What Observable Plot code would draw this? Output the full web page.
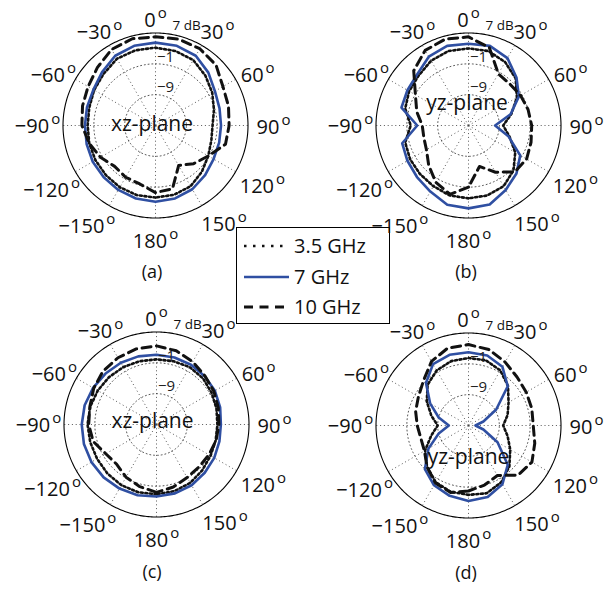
<!DOCTYPE html>
<html><head><meta charset="utf-8">
<script src="https://cdn.jsdelivr.net/npm/d3@7"></script>
<script src="https://cdn.jsdelivr.net/npm/@observablehq/plot@0.6"></script>
<style>
body{margin:0;background:#fff;}
#wrap{position:relative;width:613px;height:590px;overflow:hidden;font-family:"Open Sans",sans-serif;color:#111;}
.panel{position:absolute;}
.cap{position:absolute;font-size:18px;line-height:1;transform:translate(-50%,-50%);white-space:nowrap;}
#legend{position:absolute;left:236px;top:227px;width:154px;height:97px;border:1px solid #000;box-sizing:border-box;background:#fff;}
</style></head><body><div id="wrap"></div>
<script>
// ---- data (dB, relative) ----
const angles = [-180,-165,-150,-135,-120,-105,-90,-75,-60,-45,-30,-15,0,15,30,45,60,75,90,105,120,135,150,165];
// (a) xz-plane
const a35 = [1.7,1.7,1.5,1.2,1.0,0.8,0.6,0.8,1.4,2.0,3.0,3.2, 3.2,3.0,2.6,1.3,0.0,-1.3,-2.2,-2.0,-1.2,0.0,1.2,1.6];
const a7  = [2.8,2.6,2.3,2.0,1.8,1.5,1.3,1.4,1.6,2.6,3.9,4.4, 4.5,4.4,3.9,2.4,0.8,0.2,0.0,0.1,0.4,1.2,2.1,2.6];
const a10 = [0.4,-1.3,-1.5,-2.0,-0.5,0.8,2.1,2.6,3.2,4.3,5.8,6.3, 6.0,6.2,6.0,5.2,3.2,2.6,2.1,1.8,-1.2,-3.0,-5.0,0.0];
// (b) yz-plane
const b35 = [1.9,1.8,1.2,0.8,0.5,0.0,-2.0,0.0,0.8,1.3,2.4,3.0, 3.0,3.0,2.0,0.3,-2.5,-5.5,-8.0,-6.0,-3.0,-0.5,1.2,1.8];
const b7  = [4.5,4.3,2.8,1.9,1.3,0.8,-3.7,1.0,1.3,1.8,3.6,4.4, 4.2,4.4,3.2,0.6,-1.9,-5.7,-10.1,-6.3,-1.5,0.6,2.3,4.2];
const b10 = [-1.0,1.5,0.0,-2.4,-4.4,-5.0,-5.0,-3.1,-1.1,3.1,5.5,6.2, 6.0,3.9,-1.5,-1.8,-1.4,-1.0,-0.6,-0.2,0.4,0.0,-3.0,-6.0];
// (c) xz-plane
const c35 = [1.1,1.2,1.2,1.0,0.8,0.8,0.9,0.8,0.6,0.4,0.2,0.0, -0.1,0.0,0.2,0.0,-0.5,-0.9,-1.2,-1.1,-0.8,-0.2,0.5,0.9];
const c7  = [1.7,2.0,2.2,2.4,2.5,2.5,2.4,2.3,2.0,1.7,1.5,1.3, 1.1,1.0,0.9,0.7,0.5,0.1,-0.3,-0.1,0.3,0.7,1.2,1.5];
const c10 = [0.6,-0.3,-1.2,-2.4,-1.8,0.0,0.6,0.9,1.8,2.6,3.0,3.3, 3.4,2.8,1.8,0.8,0.2,-0.4,-0.8,-1.0,-1.3,-1.4,-1.1,-0.2];
// (d) yz-plane
const d35 = [1.0,0.8,0.0,-1.8,-4.0,-7.0,-9.0,-7.0,-4.5,-2.0,-0.5,0.3, 0.5,0.5,-0.5,-2.5,-5.0,-6.5,-8.0,-6.5,-4.5,-2.0,0.0,1.2];
const d7  = [2.6,1.9,0.9,-1.0,-5.0,-9.0,-11.9,-9.0,-5.5,-1.4,1.4,2.0, 2.0,1.8,0.6,-2.6,-8.7,-13.0,-15.2,-13.0,-8.3,-2.6,0.6,2.2];
const d10 = [0.0,1.0,0.2,-1.8,-3.8,-4.2,-3.7,-2.8,-2.0,-0.5,2.2,3.8, 4.0,3.4,2.0,0.8,0.3,0.0,-0.2,0.8,2.0,1.2,-2.0,-1.0];

const seriesNames = ["3.5 GHz","7 GHz","10 GHz"];
const tickAngles = [0,30,60,90,120,150,180,-150,-120,-90,-60,-30];
const tickLabels = ["0","30","60","90","120","150","180","\u2212150","\u2212120","\u221290","\u221260","\u221230"];
const spokeAngles = [0,30,60,90,120,150,180,210,240,270,300,330];
const gridRings = [-1,-9];
const ringLabels = ["\u22121","\u22129"];
const dbTop = 7, dbMin = -17;
const unitLabel = "7 dB";
const planes = ["xz-plane","yz-plane","xz-plane","yz-plane"];
const captions = ["(a)","(b)","(c)","(d)"];

// ---- layout / styles ----
const W = 310, H = 266, R = 92.5;
const k = R / (dbTop - dbMin);
const labelRx = {0:118, 30:118, 60:118, 90:118, 120:120, 150:137, 180:118};
const labelNudge = {"30":[3,-2], "-30":[3,-2], "90":[0,-3], "-90":[0,-4], "120":[3,0], "-120":[0,4], "150":[0,-2]};
const labelRy = 110.75, labelShift = 5.5;
const layout = [
  {cx:155, cy:125, pdx:-3.5, pby:5,   capx:152, capy:271},
  {cx:467.5, cy:125, pdx:-1.5, pby:-15.5, capx:466, capy:271},
  {cx:155.5, cy:423.5, pdx:-4, pby:3.5, capx:152, capy:571},
  {cx:467.5, cy:424.7, pdx:0, pby:38, capx:466, capy:572}
];
const dataSets = [[a35,a7,a10],[b35,b7,b10],[c35,c7,c10],[d35,d7,d10]];
const styles = [
  {stroke:"#111", strokeWidth:2.6, strokeDasharray:"2,2.6"},
  {stroke:"#2f4fa2", strokeWidth:2.6, strokeDasharray:null},
  {stroke:"#111", strokeWidth:3, strokeDasharray:"9,5.5"}
];

const toXY = (deg, db) => { const r = db - dbMin, t = deg*Math.PI/180; return {x: r*Math.sin(t), y: r*Math.cos(t)}; };
const wrap = document.getElementById("wrap");
const svgns = "http://www.w3.org/2000/svg";

// legend (drawn first, panels above it)
const leg = document.createElement("div");
leg.id = "legend";
wrap.appendChild(leg);
const lsvg = d3.select(leg).append("svg").attr("width", 152).attr("height", 95).style("display","block");
const legY = [18, 49, 79];
const legDash = ["2.5,6.5", null, "9,6.5"];
seriesNames.forEach((name, i) => {
  const st = styles[i];
  lsvg.append("line").attr("x1", 7).attr("x2", 52).attr("y1", legY[i]).attr("y2", legY[i])
    .attr("stroke", st.stroke).attr("stroke-width", st.strokeWidth).attr("stroke-dasharray", legDash[i]);
  lsvg.append("text").attr("x", 57).attr("y", legY[i]).attr("dy", "0.35em")
    .attr("font-family", "Open Sans, sans-serif").attr("font-size", 20).attr("fill", "#111").text(name);
});

dataSets.forEach((sets, pi) => {
  const L = layout[pi];
  const ringPts = gridRings.flatMap(db => d3.range(0, 361, 2).map(a => ({...toXY(a, db), ring: db})));
  const outerPts = d3.range(0, 361, 1).map(a => toXY(a, dbTop));
  const spokes = spokeAngles.map(a => ({x1: 0, y1: 0, x2: toXY(a, dbTop).x, y2: toXY(a, dbTop).y}));
  const ticks = tickAngles.map((a, i) => {
    const t = a*Math.PI/180;
    const rx = labelRx[Math.abs(a)];
    const [nx, ny] = labelNudge[String(a)] || [0, 0];
    return {x: (rx*Math.sin(t) + nx)/k, y: (labelRy*Math.cos(t) - labelShift - ny)/k, label: tickLabels[i]};
  });
  const rl = gridRings.map((db, i) => ({x: 10/k, y: (db - dbMin) + 7/k, label: ringLabels[i]}));
  const curveMarks = sets.map((vals, si) => {
    const pts = angles.map((a, i) => toXY(a, vals[i]));
    pts.push(pts[0]);
    const st = styles[si];
    return Plot.line(pts, {x: "x", y: "y", stroke: st.stroke, strokeWidth: st.strokeWidth,
      strokeDasharray: st.strokeDasharray || undefined, strokeLinejoin: "round", curve: "linear"});
  });
  const svg = Plot.plot({
    width: W, height: H, margin: 0,
    x: {domain: [-W/2/k, W/2/k], axis: null},
    y: {domain: [-H/2/k, H/2/k], axis: null},
    style: {fontFamily: "Open Sans, sans-serif", background: "transparent", overflow: "visible", color: "#111"},
    marks: [
      Plot.line(ringPts, {x: "x", y: "y", z: "ring", stroke: "#444", strokeWidth: 0.9, strokeDasharray: "1,2.8"}),
      Plot.link(spokes, {x1: "x1", y1: "y1", x2: "x2", y2: "y2", stroke: "#444", strokeWidth: 0.9, strokeDasharray: "1,2.8"}),
      Plot.line(outerPts, {x: "x", y: "y", stroke: "#000", strokeWidth: 1.1}),
      ...curveMarks,
      Plot.text(rl, {x: "x", y: "y", text: "label", fontSize: 15, fill: "#222", textAnchor: "middle"}),
      Plot.text([unitLabel], {x: () => 17/k, y: () => 100/k, text: d => d, fontSize: 13.5, textAnchor: "start", fill: "#111"}),
      Plot.text(ticks, {x: "x", y: "y", text: "label", fontSize: 20, textAnchor: "middle", fill: "#111"}),
      Plot.text([planes[pi]], {x: () => L.pdx/k, y: () => -L.pby/k, text: d => d, fontSize: 21, textAnchor: "middle", lineAnchor: "bottom", fill: "#111"})
    ]
  });
  svg.querySelectorAll('g[font-size="20"] text').forEach(t => {
    const ts = document.createElementNS(svgns, "tspan");
    ts.setAttribute("dy", "-9");
    ts.setAttribute("dx", "2");
    ts.setAttribute("font-size", "15");
    ts.textContent = "o";
    t.appendChild(ts);
  });
  svg.classList.add("panel");
  svg.style.left = (L.cx - W/2) + "px";
  svg.style.top = (L.cy - H/2) + "px";
  wrap.appendChild(svg);
  const cap = document.createElement("div");
  cap.className = "cap";
  cap.style.left = L.capx + "px";
  cap.style.top = L.capy + "px";
  cap.textContent = captions[pi];
  wrap.appendChild(cap);
});
</script></body></html>
